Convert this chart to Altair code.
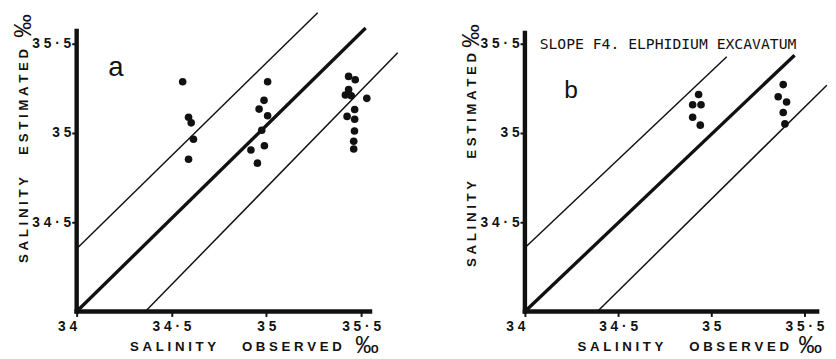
import altair as alt
import pandas as pd

# ---------------- values ----------------
# panel a : observed vs estimated salinity (per mille)
a_obs = [34.559, 34.590, 34.604, 34.616, 34.590,
         35.007, 34.988, 34.962, 35.007, 34.976, 34.919, 34.990, 34.953,
         35.434, 35.469, 35.434, 35.417, 35.448, 35.530, 35.466, 35.426,
         35.466, 35.465, 35.461, 35.461]
a_est = [35.287, 35.088, 35.057, 34.965, 34.853,
         35.287, 35.183, 35.134, 35.097, 35.015, 34.905, 34.929, 34.831,
         35.317, 35.298, 35.243, 35.213, 35.209, 35.194, 35.132, 35.093,
         35.077, 35.011, 34.954, 34.910]

# panel b : Slope F4, Elphidium excavatum
b_obs = [34.932, 34.900, 34.945, 34.900, 34.941,
         35.386, 35.359, 35.404, 35.386, 35.395]
b_est = [35.216, 35.158, 35.158, 35.088, 35.044,
         35.271, 35.203, 35.174, 35.115, 35.051]

# reference lines (1:1 line and the two limit lines), start / end points
line_kind = ["agreement", "upper limit", "lower limit"]
a_line_obs_start = [34.0, 34.0, 34.362]
a_line_est_start = [34.0, 34.352, 34.0]
a_line_obs_end = [35.524, 35.271, 35.693]
a_line_est_end = [35.588, 35.674, 35.449]

b_line_obs_start = [34.0, 34.0, 34.389]
b_line_est_start = [34.0, 34.357, 34.0]
b_line_obs_end = [35.447, 35.083, 35.620]
b_line_est_end = [35.436, 35.427, 35.268]

# drawn length of the axis lines
a_axis_end = [35.547, 35.571]
b_axis_end = [35.568, 35.560]

tick_values = [34.0, 34.5, 35.0, 35.5]
tick_labels = ["34", "34·5", "35", "35·5"]
y_tick_values = [34.5, 35.0, 35.5]

panel_letters = ["a", "b"]
panel_note = "SLOPE F4. ELPHIDIUM EXCAVATUM"
x_title_words = ["SALINITY", "OBSERVED"]
y_title_words = ["SALINITY", "ESTIMATED"]
unit = "‰"

# ---------------- styling ----------------
INK = "#111111"
FONT = "Liberation Sans"
NB = "\u00a0"
Y_MAX = 35.6758
HEIGHT = 305


def spaced(s, sep=" "):
    return sep.join(list(s))


label_expr = " : ".join(
    f"abs(datum.value - {v}) < 0.01 ? '{spaced(l)}'" for v, l in zip(tick_values, tick_labels)
) + " : ''"

x_title = spaced(x_title_words[0], NB) + NB * 7 + spaced(x_title_words[1], NB)
y_title = spaced(y_title_words[0], NB) + NB * 6 + spaced(y_title_words[1], NB)


def make_panel(obs, est, ls_o, ls_e, le_o, le_e, axis_end, x_max, width,
               letter, letter_pos, letter_size, ytitle_y, xtitle_x, yunit_y, xunit_x,
               note=None):
    xs = alt.Scale(domain=[34.0, x_max], nice=False, zero=False)
    ys = alt.Scale(domain=[34.0, Y_MAX], nice=False, zero=False)
    x_axis = alt.Axis(
        values=tick_values, labelExpr=label_expr, domain=False, grid=False,
        ticks=True, tickSize=5, tickWidth=2, tickColor=INK,
        labelFont=FONT, labelFontSize=14, labelFontWeight="bold", labelColor=INK,
        labelPadding=3, labelBaseline="top", labelFlush=False, labelOverlap=False,
        labelAlign={"condition": {"test": "datum.value < 34.1", "value": "right"}, "value": "center"},
        title=x_title, titleFont=FONT, titleFontSize=13.5, titleFontWeight="bold", titleColor=INK,
        titleX=xtitle_x, titleY=36, titleAlign="left", titleBaseline="middle", titleAnchor="start",
    )
    y_axis = alt.Axis(
        values=y_tick_values, labelExpr=label_expr, domain=False, grid=False,
        ticks=True, tickSize=5, tickWidth=2, tickColor=INK,
        labelFont=FONT, labelFontSize=14, labelFontWeight="bold", labelColor=INK,
        labelPadding=1, labelBaseline="middle", labelAlign="right",
        labelFlush=False, labelOverlap=False,
        title=y_title, titleFont=FONT, titleFontSize=13.5, titleFontWeight="bold", titleColor=INK,
        titleX=-54, titleY=ytitle_y, titleAngle=270, titleAlign="left",
        titleBaseline="middle", titleAnchor="start",
    )

    def X(f):
        return alt.X(f"{f}:Q", scale=xs, axis=x_axis)

    def Y(f):
        return alt.Y(f"{f}:Q", scale=ys, axis=y_axis)

    pts = pd.DataFrame({"obs": obs, "est": est})
    lines = pd.DataFrame({"obs": ls_o, "est": ls_e, "obs2": le_o, "est2": le_e, "kind": line_kind})
    axes = pd.DataFrame({"obs": [34.0, 34.0], "est": [34.0, 34.0],
                         "obs2": [axis_end[0], 34.0], "est2": [34.0, axis_end[1]]})

    axis_lines = alt.Chart(axes).mark_rule(color=INK, strokeWidth=4.5, strokeCap="square").encode(
        x=X("obs"), y=Y("est"), x2="obs2:Q", y2="est2:Q")

    thick = alt.Chart(lines).transform_filter(
        alt.datum.kind == line_kind[0]
    ).mark_rule(color=INK, strokeWidth=3.4).encode(
        x=X("obs"), y=Y("est"), x2="obs2:Q", y2="est2:Q")

    thin = alt.Chart(lines).transform_filter(
        alt.datum.kind != line_kind[0]
    ).mark_rule(color=INK, strokeWidth=1.5).encode(
        x=X("obs"), y=Y("est"), x2="obs2:Q", y2="est2:Q")

    dots = alt.Chart(pts).mark_circle(color=INK, opacity=1, size=60).encode(x=X("obs"), y=Y("est"))

    letter_df = pd.DataFrame({"t": [letter]})
    letter_mark = alt.Chart(letter_df).mark_text(
        font=FONT, fontSize=letter_size, color=INK, align="center", baseline="alphabetic"
    ).encode(x=alt.value(letter_pos[0]), y=alt.value(letter_pos[1]), text="t:N")

    unit_df = pd.DataFrame({"t": [unit]})
    unit_x = alt.Chart(unit_df).mark_text(
        font=FONT, fontSize=24, color=INK, align="center", baseline="middle"
    ).encode(x=alt.value(xunit_x), y=alt.value(HEIGHT + 35), text="t:N")
    unit_y = alt.Chart(unit_df).mark_text(
        font=FONT, fontSize=24, color=INK, align="center", baseline="middle", angle=270
    ).encode(x=alt.value(-54), y=alt.value(yunit_y), text="t:N")

    layers = [axis_lines, thick, thin, dots, letter_mark, unit_x, unit_y]
    if note is not None:
        note_df = pd.DataFrame({"t": [note]})
        layers.append(alt.Chart(note_df).mark_text(
            font="DejaVu Sans Mono", fontSize=15, color=INK, align="left", baseline="alphabetic"
        ).encode(x=alt.value(15), y=alt.value(37), text="t:N"))

    return alt.layer(*layers).properties(width=width, height=HEIGHT)


panel_a = make_panel(a_obs, a_est, a_line_obs_start, a_line_est_start, a_line_obs_end, a_line_est_end,
                     a_axis_end, 35.7224, 333, panel_letters[0], (40, 65), 28,
                     ytitle_y=255, xtitle_x=54, yunit_y=14, xunit_x=296)
panel_b = make_panel(b_obs, b_est, b_line_obs_start, b_line_est_start, b_line_obs_end, b_line_est_end,
                     b_axis_end, 35.621, 308, panel_letters[1], (47, 87), 25,
                     ytitle_y=259, xtitle_x=53, yunit_y=24, xunit_x=291, note=panel_note)

chart = alt.hconcat(panel_a, panel_b, spacing=58).properties(
    padding={"left": 4, "top": 0, "right": 0, "bottom": 0},
    background="white",
).configure_view(stroke=None)

chart.save("out.html", embed_options={"renderer": "svg", "actions": False})
